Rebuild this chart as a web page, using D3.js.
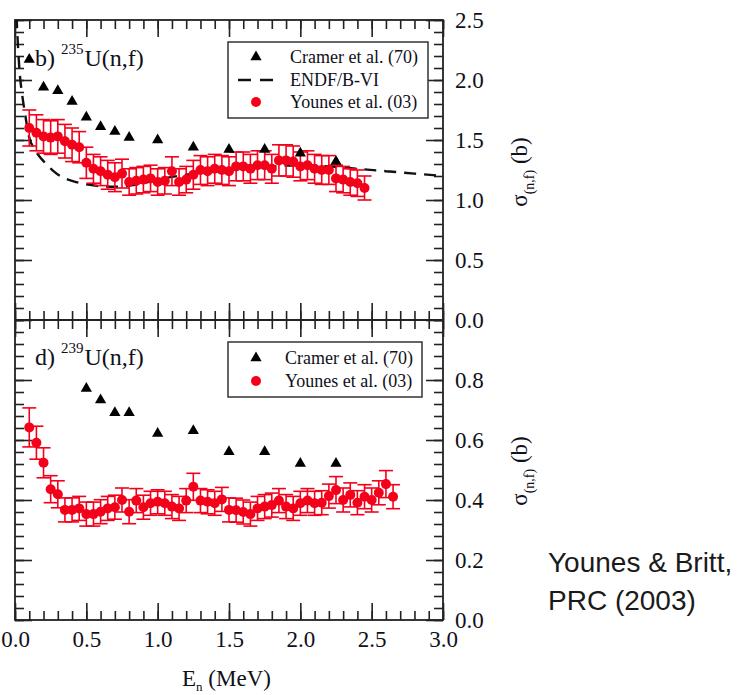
<!DOCTYPE html>
<html>
<head>
<meta charset="utf-8">
<script src="https://cdn.jsdelivr.net/npm/d3@7"></script>
<style>
  body { margin: 0; background: #fff; }
  svg { display: block; }
  .serif { font-family: "Liberation Serif", "Times New Roman", serif; fill: #10101a; }
</style>
</head>
<body>
<div id="chart"></div>
<script>
// ---- data ----
// panel b) 235U(n,f)
var cramerE_235 = [0.1, 0.2, 0.3, 0.4, 0.5, 0.6, 0.7, 0.8, 1.0, 1.25, 1.5, 1.75, 2.0, 2.25];
var cramerS_235 = [2.17, 1.94, 1.91, 1.82, 1.69, 1.61, 1.57, 1.52, 1.50, 1.44, 1.42, 1.42, 1.39, 1.32];

var endfE = [0.005, 0.02, 0.035, 0.05, 0.07, 0.1, 0.14, 0.18, 0.22, 0.27, 0.33, 0.4, 0.5, 0.6, 0.7, 0.8, 0.9, 1.0, 1.2, 1.4, 1.6, 1.8, 2.0, 2.2, 2.4, 2.6, 2.8, 3.0];
var endfS = [2.7, 2.3, 2.03, 1.88, 1.72, 1.52, 1.42, 1.35, 1.30, 1.24, 1.19, 1.16, 1.13, 1.115, 1.11, 1.12, 1.14, 1.17, 1.21, 1.24, 1.26, 1.28, 1.29, 1.28, 1.26, 1.24, 1.22, 1.20];

var younesE_235 = [0.10, 0.15, 0.20, 0.25, 0.30, 0.35, 0.40, 0.45, 0.50, 0.55, 0.60, 0.65, 0.70, 0.75, 0.80, 0.85,
                   0.90, 0.95, 1.00, 1.05, 1.10, 1.15, 1.20, 1.25, 1.30, 1.35, 1.40, 1.45, 1.50, 1.55, 1.60, 1.65,
                   1.70, 1.75, 1.80, 1.85, 1.90, 1.95, 2.00, 2.05, 2.10, 2.15, 2.20, 2.25, 2.30, 2.35, 2.40, 2.45];
var younesS_235 = [1.60, 1.56, 1.53, 1.52, 1.53, 1.49, 1.46, 1.44, 1.31, 1.26, 1.24, 1.21, 1.19, 1.22, 1.15, 1.16,
                   1.17, 1.18, 1.15, 1.16, 1.24, 1.15, 1.17, 1.21, 1.25, 1.24, 1.26, 1.25, 1.24, 1.28, 1.28, 1.26,
                   1.29, 1.29, 1.26, 1.33, 1.33, 1.32, 1.28, 1.29, 1.26, 1.25, 1.25, 1.18, 1.17, 1.15, 1.14, 1.10];
var younesErr_235 = [0.15, 0.15, 0.14, 0.14, 0.14, 0.14, 0.14, 0.13, 0.13, 0.12, 0.12, 0.12, 0.12, 0.12, 0.11, 0.11,
                     0.11, 0.11, 0.11, 0.11, 0.12, 0.11, 0.11, 0.12, 0.12, 0.12, 0.12, 0.12, 0.12, 0.12, 0.12, 0.12,
                     0.12, 0.12, 0.12, 0.13, 0.13, 0.13, 0.12, 0.12, 0.12, 0.12, 0.12, 0.11, 0.11, 0.11, 0.11, 0.10];

// panel d) 239U(n,f)
var cramerE_239 = [0.5, 0.6, 0.7, 0.8, 1.0, 1.25, 1.5, 1.75, 2.0, 2.25];
var cramerS_239 = [0.772, 0.733, 0.691, 0.691, 0.622, 0.631, 0.561, 0.561, 0.522, 0.522];

var younesE_239 = [0.10, 0.15, 0.20, 0.25, 0.30, 0.35, 0.40, 0.45, 0.50, 0.55, 0.60, 0.65, 0.70, 0.75, 0.80, 0.85,
                   0.90, 0.95, 1.00, 1.05, 1.10, 1.15, 1.20, 1.25, 1.30, 1.35, 1.40, 1.45, 1.50, 1.55, 1.60, 1.65,
                   1.70, 1.75, 1.80, 1.85, 1.90, 1.95, 2.00, 2.05, 2.10, 2.15, 2.20, 2.25, 2.30, 2.35, 2.40, 2.45,
                   2.50, 2.55, 2.60, 2.65];
var younesS_239 = [0.642, 0.591, 0.524, 0.436, 0.419, 0.367, 0.367, 0.372, 0.353, 0.353, 0.361, 0.372, 0.376, 0.400, 0.361, 0.398,
                   0.376, 0.389, 0.394, 0.389, 0.378, 0.372, 0.398, 0.444, 0.398, 0.394, 0.389, 0.402, 0.367, 0.366, 0.360, 0.353,
                   0.372, 0.378, 0.383, 0.398, 0.378, 0.372, 0.389, 0.398, 0.389, 0.391, 0.413, 0.433, 0.400, 0.417, 0.391, 0.411,
                   0.400, 0.424, 0.453, 0.411];
var younesErr_239 = [0.065, 0.055, 0.05, 0.045, 0.045, 0.04, 0.04, 0.04, 0.04, 0.04, 0.04, 0.04, 0.04, 0.04, 0.04, 0.04,
                     0.04, 0.04, 0.04, 0.04, 0.04, 0.04, 0.04, 0.045, 0.04, 0.04, 0.04, 0.04, 0.04, 0.04, 0.04, 0.04,
                     0.04, 0.04, 0.04, 0.04, 0.04, 0.04, 0.04, 0.04, 0.04, 0.04, 0.04, 0.045, 0.04, 0.04, 0.04, 0.04,
                     0.04, 0.04, 0.045, 0.04];

var xMajor = [0, 0.5, 1.0, 1.5, 2.0, 2.5, 3.0];
var yMajorTop = [0, 0.5, 1.0, 1.5, 2.0, 2.5];
var yMajorBot = [0, 0.2, 0.4, 0.6, 0.8];

// ---- layout ----
var width = 750, height = 695;
var left = 15, right = 443;
var topY = 20, midY = 320, botY = 620;
var red = "#f5001a";

var svg = d3.select("#chart").append("svg")
    .attr("width", width)
    .attr("height", height);

var x = d3.scaleLinear().domain([0, 3]).range([left, right]);
var yTop = d3.scaleLinear().domain([0, 2.5]).range([midY, topY]);
var yBot = d3.scaleLinear().domain([0, 1.0]).range([botY, midY]);

var xMinor = d3.range(0, 3.001, 0.1).map(function(v) { return +v.toFixed(2); });
var yMinorTop = d3.range(0, 2.501, 0.1).map(function(v) { return +v.toFixed(2); });
var yMinorBot = d3.range(0, 1.0001, 0.04).map(function(v) { return +v.toFixed(2); });

// draws inward ticks on one frame edge
function edgeTicks(axisFn, scale, major, minor, transform) {
    [[minor, 9], [major, 17]].forEach(function(set) {
        var g = svg.append("g")
            .attr("transform", transform)
            .call(axisFn(scale).tickValues(set[0]).tickSize(-set[1]).tickFormat(""));
        g.select(".domain").remove();
        g.selectAll("line").attr("stroke", "#222").attr("stroke-width", 1.6);
    });
}

// top panel
edgeTicks(d3.axisTop, x, xMajor, xMinor, "translate(0," + topY + ")");
edgeTicks(d3.axisBottom, x, xMajor, xMinor, "translate(0," + midY + ")");
edgeTicks(d3.axisLeft, yTop, yMajorTop, yMinorTop, "translate(" + left + ",0)");
edgeTicks(d3.axisRight, yTop, yMajorTop, yMinorTop, "translate(" + right + ",0)");
// bottom panel
edgeTicks(d3.axisTop, x, xMajor, xMinor, "translate(0," + midY + ")");
edgeTicks(d3.axisBottom, x, xMajor, xMinor, "translate(0," + botY + ")");
edgeTicks(d3.axisLeft, yBot, yMajorBot, yMinorBot, "translate(" + left + ",0)");
edgeTicks(d3.axisRight, yBot, yMajorBot, yMinorBot, "translate(" + right + ",0)");

// frames
[[topY, midY], [midY, botY]].forEach(function(p) {
    svg.append("rect")
        .attr("x", left).attr("y", p[0])
        .attr("width", right - left).attr("height", p[1] - p[0])
        .attr("fill", "none").attr("stroke", "#222").attr("stroke-width", 1.8);
});

// tick labels
function labelAxis(axisFn, scale, values, pad, transform) {
    var g = svg.append("g")
        .attr("transform", transform)
        .call(axisFn(scale).tickValues(values).tickSize(0).tickPadding(pad).tickFormat(d3.format(".1f")));
    g.select(".domain").remove();
    g.selectAll("text")
        .attr("class", "serif")
        .style("font-size", "23px")
        .attr("fill", "#10101a");
    return g;
}
labelAxis(d3.axisRight, yTop, yMajorTop, 12, "translate(" + right + ",0)");
labelAxis(d3.axisRight, yBot, yMajorBot, 12, "translate(" + right + ",0)");
labelAxis(d3.axisBottom, x, xMajor, 11, "translate(0," + botY + ")");

// clip for the top panel
svg.append("clipPath").attr("id", "clipTop")
  .append("rect").attr("x", left).attr("y", topY).attr("width", right - left).attr("height", midY - topY);

// ---- top panel data ----
var endf = endfE.map(function(e, i) { return [e, endfS[i]]; });
svg.append("path")
    .datum(endf)
    .attr("clip-path", "url(#clipTop)")
    .attr("fill", "none")
    .attr("stroke", "#111")
    .attr("stroke-width", 2.4)
    .attr("stroke-dasharray", "12,8")
    .attr("d", d3.line().curve(d3.curveMonotoneX)
        .x(function(d) { return x(d[0]); })
        .y(function(d) { return yTop(d[1]); }));

function drawYounes(E, S, Err, y) {
    var g = svg.append("g");
    var pts = E.map(function(e, i) { return { e: e, s: S[i], err: Err[i] }; });
    var bars = g.selectAll(".eb").data(pts).enter().append("g")
        .attr("stroke", red).attr("stroke-width", 1.6);
    bars.append("line")
        .attr("x1", function(d) { return x(d.e); }).attr("x2", function(d) { return x(d.e); })
        .attr("y1", function(d) { return y(d.s - d.err); }).attr("y2", function(d) { return y(d.s + d.err); });
    bars.append("line")
        .attr("x1", function(d) { return x(d.e) - 7; }).attr("x2", function(d) { return x(d.e) + 7; })
        .attr("y1", function(d) { return y(d.s + d.err); }).attr("y2", function(d) { return y(d.s + d.err); });
    bars.append("line")
        .attr("x1", function(d) { return x(d.e) - 7; }).attr("x2", function(d) { return x(d.e) + 7; })
        .attr("y1", function(d) { return y(d.s - d.err); }).attr("y2", function(d) { return y(d.s - d.err); });
    g.selectAll("circle").data(pts).enter().append("circle")
        .attr("cx", function(d) { return x(d.e); })
        .attr("cy", function(d) { return y(d.s); })
        .attr("r", 5)
        .attr("fill", red);
}

function drawCramer(E, S, y) {
    svg.append("g").selectAll("path").data(E).enter().append("path")
        .attr("d", d3.symbol(d3.symbolTriangle).size(55))
        .attr("transform", function(d, i) { return "translate(" + x(d) + "," + y(S[i]) + ")"; })
        .attr("fill", "#000");
}

drawYounes(younesE_235, younesS_235, younesErr_235, yTop);
drawCramer(cramerE_235, cramerS_235, yTop);
drawYounes(younesE_239, younesS_239, younesErr_239, yBot);
drawCramer(cramerE_239, cramerS_239, yBot);

// ---- legends ----
function legend(x0, y0, w, h, rows) {
    svg.append("rect").attr("x", x0).attr("y", y0).attr("width", w).attr("height", h)
        .attr("fill", "#fff").attr("stroke", "#333").attr("stroke-width", 1.5);
    rows.forEach(function(r) {
        if (r.type === "tri") {
            svg.append("path").attr("d", d3.symbol(d3.symbolTriangle).size(55))
                .attr("transform", "translate(" + (x0 + 28) + "," + r.y + ")").attr("fill", "#000");
        } else if (r.type === "dash") {
            svg.append("line").attr("x1", x0 + 10).attr("x2", x0 + 46).attr("y1", r.y).attr("y2", r.y)
                .attr("stroke", "#111").attr("stroke-width", 2.4).attr("stroke-dasharray", "13,9");
        } else {
            svg.append("circle").attr("cx", x0 + 28).attr("cy", r.y).attr("r", 5).attr("fill", red);
        }
        svg.append("text").attr("class", "serif").attr("x", x0 + r.tx).attr("y", r.y + 6)
            .style("font-size", "18px").text(r.label);
    });
}
legend(228, 42, 200, 76, [
    { type: "tri", y: 57, tx: 62, label: "Cramer et al. (70)" },
    { type: "dash", y: 80, tx: 62, label: "ENDF/B-VI" },
    { type: "dot", y: 102, tx: 62, label: "Younes et al. (03)" }
]);
legend(228, 342, 194, 55, [
    { type: "tri", y: 358, tx: 57, label: "Cramer et al. (70)" },
    { type: "dot", y: 381, tx: 57, label: "Younes et al. (03)" }
]);

// ---- panel labels ----
function panelLabel(letter, mass, yb) {
    var t = svg.append("text").attr("class", "serif").attr("x", 35).attr("y", yb).style("font-size", "24px");
    t.append("tspan").text(letter + ") ");
    t.append("tspan").attr("dy", -12).style("font-size", "15px").text(mass);
    t.append("tspan").attr("dy", 12).attr("dx", 1).text("U(n,f)");
}
panelLabel("b", "235", 66);
panelLabel("d", "239", 365);

// ---- axis titles ----
function yTitle(cy) {
    var t = svg.append("text").attr("class", "serif")
        .attr("transform", "translate(527," + cy + ") rotate(-90)")
        .attr("text-anchor", "middle").style("font-size", "23px");
    t.append("tspan").text("σ");
    t.append("tspan").attr("dy", 7).style("font-size", "14px").text("(n,f)");
    t.append("tspan").attr("dy", -7).text(" (b)");
}
yTitle(172);
yTitle(471);

var xt = svg.append("text").attr("class", "serif").attr("x", 182).attr("y", 686).style("font-size", "23px");
xt.append("tspan").text("E");
xt.append("tspan").attr("dy", 5).style("font-size", "13px").text("n");
xt.append("tspan").attr("dy", -5).text(" (MeV)");

// ---- citation ----
svg.append("text").attr("x", 548).attr("y", 572)
    .style("font-family", "'Liberation Sans', Helvetica, Arial, sans-serif")
    .style("font-size", "28px").attr("fill", "#1a1a1a").text("Younes & Britt,");
svg.append("text").attr("x", 548).attr("y", 610)
    .style("font-family", "'Liberation Sans', Helvetica, Arial, sans-serif")
    .style("font-size", "28px").attr("fill", "#1a1a1a").text("PRC (2003)");
</script>
</body>
</html>
